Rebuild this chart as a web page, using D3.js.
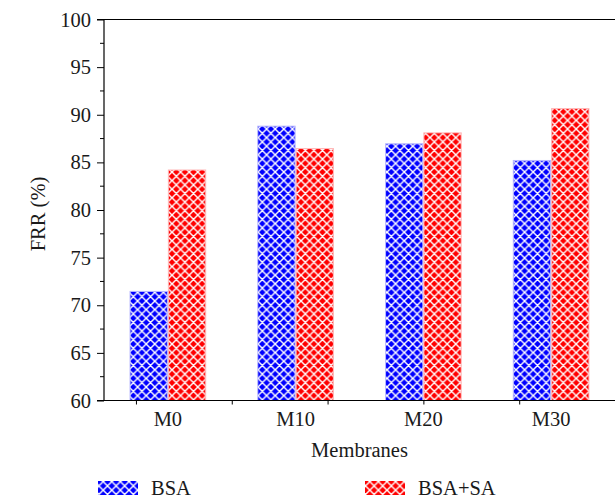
<!DOCTYPE html>
<html>
<head>
<meta charset="utf-8">
<script src="https://cdn.jsdelivr.net/npm/d3@7"></script>
<style>
body{margin:0;background:#fff;}
text{font-family:"Liberation Serif","Times New Roman",serif;fill:#1a1a1a;}
</style>
</head>
<body>
<svg id="c" width="615" height="500"></svg>
<script>
const categories = ["M0","M10","M20","M30"];
const seriesNames = ["BSA","BSA+SA"];
const bsa = [71.45, 88.8, 86.95, 85.2];
const bsaSa = [84.2, 86.45, 88.1, 90.65];
const yTicks = [60,65,70,75,80,85,90,95,100];
const xTickPos = [0.75,1.5,2.25,3,3.75];

const svg = d3.select("#c");
const colors = ["#0000ff","#ff0000"];
const edge = ["#b8b8ff","#ffb8b8"];
const fs = "20.5px";

const defs = svg.append("defs");
colors.forEach((c,i)=>{
  const s = 8.6;
  const p = defs.append("pattern").attr("id","hatch"+i)
    .attr("patternUnits","userSpaceOnUse").attr("width",s).attr("height",s);
  p.append("rect").attr("width",s).attr("height",s).attr("fill",c);
  p.append("path").attr("d",`M0,0L${s},${s}M0,${s}L${s},0M${-s/2},${s/2}L${s/2},${s*1.5}M${s/2},${-s/2}L${s*1.5},${s/2}M${-s/2},${s/2}L${s/2},${-s/2}M${s/2},${s*1.5}L${s*1.5},${s/2}`)
    .attr("stroke","#fff").attr("stroke-width",1.4);
});

const x = d3.scaleLinear().domain([0.5,4.5]).range([104,615]);
const y = d3.scaleLinear().domain([60,100]).range([400.5,19.5]);

// bars
const data = categories.map((c,i)=>({c, i:i+1, v:[bsa[i], bsaSa[i]]}));
const bw = 0.3;
data.forEach(d=>{
  d.v.forEach((v,k)=>{
    const x0 = k===0 ? x(d.i-bw) : x(d.i);
    const x1 = k===0 ? x(d.i) : x(d.i+bw);
    svg.append("rect")
      .attr("x",x0+0.5).attr("y",y(v)).attr("width",x1-x0-1).attr("height",y(60)-y(v))
      .attr("fill",`url(#hatch${k})`).attr("stroke",edge[k]).attr("stroke-width",1);
  });
});

// y axis
const yAxis = d3.axisLeft(y).tickValues(yTicks).tickSize(7).tickPadding(6).tickFormat(d3.format("d"));
const gy = svg.append("g").attr("transform","translate(104,0)").call(yAxis);
gy.select(".domain").remove();
gy.selectAll("line").attr("stroke","#000");
gy.selectAll("text").style("font-size",fs).style("font-family","Liberation Serif, serif").attr("fill","#1a1a1a");
const minor = d3.range(62.5,100,5);
svg.append("g").selectAll("line").data(minor).join("line")
  .attr("x1",100).attr("x2",104).attr("y1",d=>y(d)).attr("y2",d=>y(d)).attr("stroke","#000");
svg.append("line").attr("x1",104).attr("x2",104).attr("y1",y(100)).attr("y2",y(60)).attr("stroke","#000").attr("stroke-width",1.2);
// top line
svg.append("line").attr("x1",97).attr("x2",615).attr("y1",y(100)).attr("y2",y(100)).attr("stroke","#000").attr("stroke-width",1.2);

// x axis
const xAxis = d3.axisBottom(x).tickValues(xTickPos).tickSize(4).tickFormat("");
const gx = svg.append("g").attr("transform",`translate(0,${y(60)})`).call(xAxis);
gx.select(".domain").remove();
gx.selectAll("line").attr("stroke","#000");
svg.append("line").attr("x1",97).attr("x2",615).attr("y1",y(60)).attr("y2",y(60)).attr("stroke","#000").attr("stroke-width",1.2);

svg.append("g").selectAll("text").data(data).join("text")
  .attr("x",d=>x(d.i)).attr("y",426).attr("text-anchor","middle")
  .style("font-size",fs).text(d=>d.c);

svg.append("text").attr("x",x(2.5)).attr("y",457).attr("text-anchor","middle")
  .style("font-size",fs).text("Membranes");

svg.append("text").attr("transform","translate(45,214) rotate(-90)").attr("text-anchor","middle")
  .style("font-size",fs).text("FRR (%)");

// legend
const legX = [98, 365];
seriesNames.forEach((n,k)=>{
  svg.append("rect").attr("x",legX[k]).attr("y",481).attr("width",40).attr("height",14)
    .attr("fill",`url(#hatch${k})`);
  svg.append("text").attr("x",legX[k]+53).attr("y",495).style("font-size",fs).text(n);
});
</script>
</body>
</html>
